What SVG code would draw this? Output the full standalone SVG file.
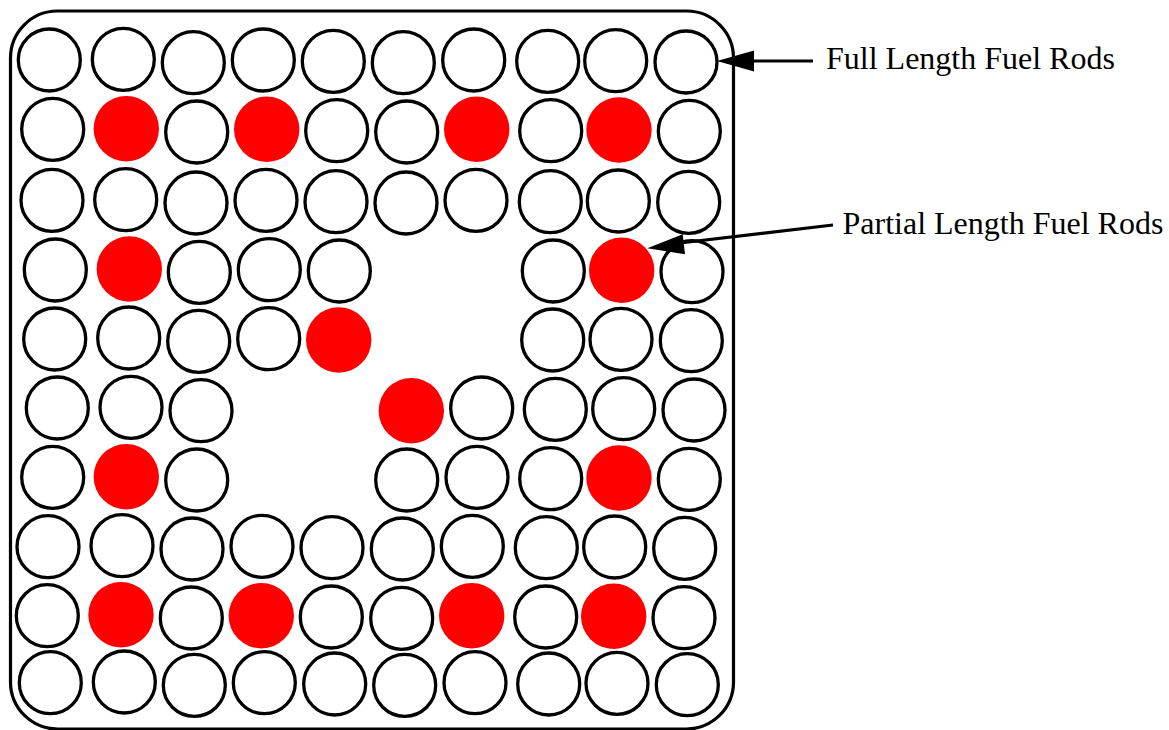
<svg xmlns="http://www.w3.org/2000/svg" width="1169" height="730" viewBox="0 0 1169 730">
<style>
.f{fill:#fff;stroke:#000;stroke-width:3.3}
.p{fill:#f00;stroke:none}
.l{fill:none;stroke:#000;stroke-width:3.2}
.a{fill:#000;stroke:none}
text{font-family:"Liberation Serif","Times New Roman",serif;font-size:32px;fill:#000}
</style>
<defs>
<circle id="c" r="31" class="f"/>
<circle id="r" r="32.7" class="p"/>
</defs>
<rect width="1169" height="730" fill="#fff"/>
<g id="assembly-frame"><rect x="10.500" y="11" width="723" height="718" rx="47" ry="47" class="l"/></g>
<g id="full-length-rods">
<use href="#c" x="49.300" y="60"/><use href="#c" x="123.300" y="59.300"/><use href="#c" x="193.300" y="62.700"/><use href="#c" x="263.300" y="60"/><use href="#c" x="333.300" y="61.300"/><use href="#c" x="403.300" y="62.700"/><use href="#c" x="473.700" y="60"/><use href="#c" x="547.700" y="61.300"/><use href="#c" x="615.700" y="60.700"/><use href="#c" x="686" y="62"/>
<use href="#c" x="52.700" y="129.300"/><use href="#c" x="196.700" y="132"/><use href="#c" x="336.700" y="130.700"/><use href="#c" x="406.700" y="132"/><use href="#c" x="550.700" y="130.700"/><use href="#c" x="689.300" y="131.300"/>
<use href="#c" x="52" y="200.300"/><use href="#c" x="125.700" y="199.700"/><use href="#c" x="196" y="203"/><use href="#c" x="266" y="200.300"/><use href="#c" x="336" y="201.700"/><use href="#c" x="406" y="203"/><use href="#c" x="476" y="200.300"/><use href="#c" x="550.300" y="201.700"/><use href="#c" x="618.300" y="201"/><use href="#c" x="688.700" y="202.300"/>
<use href="#c" x="55.300" y="270"/><use href="#c" x="199.300" y="272.300"/><use href="#c" x="269.300" y="269.700"/><use href="#c" x="339.300" y="271"/><use href="#c" x="553.300" y="271"/><use href="#c" x="692" y="271.700"/>
<use href="#c" x="54.700" y="339"/><use href="#c" x="128.700" y="338"/><use href="#c" x="198.700" y="341.300"/><use href="#c" x="268.700" y="338.700"/><use href="#c" x="552.700" y="340"/><use href="#c" x="621" y="339.300"/><use href="#c" x="691.300" y="340.700"/>
<use href="#c" x="57.300" y="408"/><use href="#c" x="131" y="407.300"/><use href="#c" x="201" y="410.700"/><use href="#c" x="481.700" y="408"/><use href="#c" x="555.300" y="409.300"/><use href="#c" x="623.700" y="408.700"/><use href="#c" x="694" y="410"/>
<use href="#c" x="52.700" y="477.300"/><use href="#c" x="196.700" y="480"/><use href="#c" x="406.700" y="480"/><use href="#c" x="477" y="477.300"/><use href="#c" x="550.700" y="478.700"/><use href="#c" x="689.300" y="479.300"/>
<use href="#c" x="48" y="546.700"/><use href="#c" x="122" y="545.700"/><use href="#c" x="192" y="549"/><use href="#c" x="262" y="546.300"/><use href="#c" x="332" y="547.700"/><use href="#c" x="402.300" y="549"/><use href="#c" x="472.300" y="546.300"/><use href="#c" x="546.300" y="547.700"/><use href="#c" x="614.700" y="547"/><use href="#c" x="684.700" y="548.300"/>
<use href="#c" x="47.300" y="615.700"/><use href="#c" x="191.300" y="618"/><use href="#c" x="331.300" y="617"/><use href="#c" x="401.700" y="618.300"/><use href="#c" x="545.700" y="617"/><use href="#c" x="684" y="617.700"/>
<use href="#c" x="50.300" y="682.700"/><use href="#c" x="124.300" y="682"/><use href="#c" x="194.300" y="685.300"/><use href="#c" x="264.300" y="682.700"/><use href="#c" x="334.700" y="684"/><use href="#c" x="404.700" y="685.300"/><use href="#c" x="475" y="682.700"/><use href="#c" x="548.700" y="684"/><use href="#c" x="617" y="683.300"/><use href="#c" x="687.300" y="684.700"/>
</g>
<g id="partial-length-rods">
<use href="#r" x="126.300" y="128.700"/><use href="#r" x="266.700" y="129.300"/><use href="#r" x="476.700" y="129.300"/><use href="#r" x="619" y="130"/>
<use href="#r" x="129.300" y="269"/><use href="#r" x="621.700" y="270.300"/>
<use href="#r" x="338.700" y="340"/><use href="#r" x="411.300" y="410.700"/>
<use href="#r" x="126.300" y="476.700"/><use href="#r" x="619" y="478"/>
<use href="#r" x="121" y="614.700"/><use href="#r" x="261.300" y="615.700"/><use href="#r" x="471.700" y="615.700"/><use href="#r" x="613.700" y="616.300"/>
</g>
<g id="connectors">
<line x1="813" y1="61" x2="750" y2="61" class="l"/><polygon points="717,61 754,50.500 754,71.500" class="a"/>
<line x1="833" y1="225" x2="680" y2="243" class="l"/><polygon points="647.300,248.300 682.700,234.300 685,254.300" class="a"/>
</g>
<g id="labels">
<text x="826" y="69">Full Length Fuel Rods</text>
<text x="842.500" y="234">Partial Length Fuel Rods</text>
</g>
</svg>
